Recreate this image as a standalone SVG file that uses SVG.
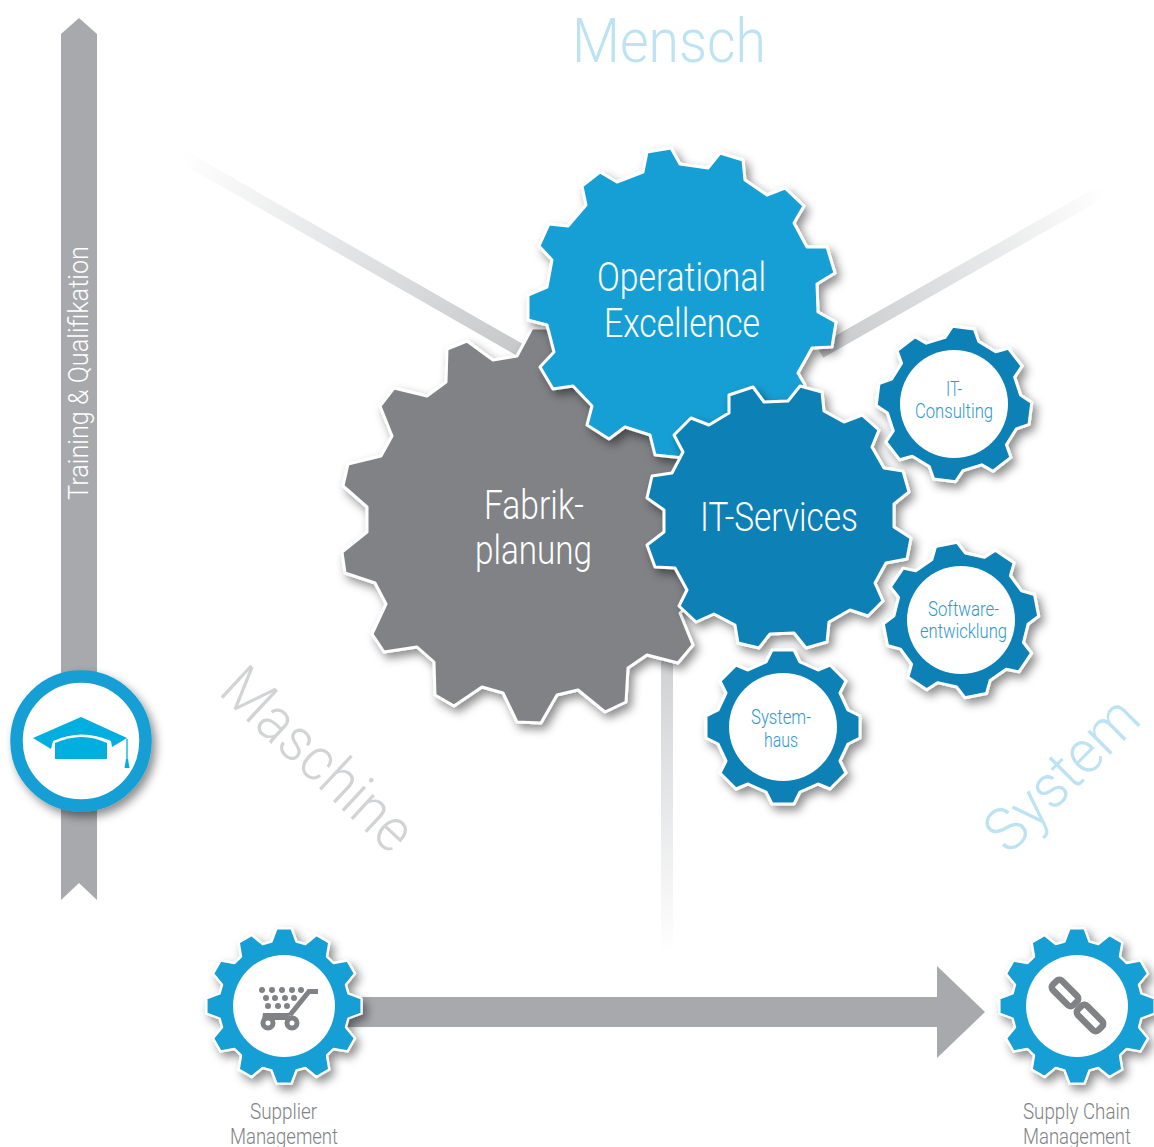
<svg xmlns="http://www.w3.org/2000/svg" xmlns:xlink="http://www.w3.org/1999/xlink" width="1154" height="1147" viewBox="0 0 1154 1147">
<style>
text{font-family:Roboto,"Liberation Sans",sans-serif;font-weight:300}
.big{font-size:40px;fill:#fff}
.small{font-size:20px;fill:#2f97cb}
.cap{font-size:21.5px;fill:#808285}
.axis{font-size:61px}
.gear{stroke:#fff;stroke-width:3;stroke-linejoin:round}
.inner{fill:#fff}
.shadow{filter:url(#ds)}
.chain{fill:none;stroke:#808285;stroke-width:6.5}
</style>
<defs>
<filter id="ds" x="-20%" y="-20%" width="150%" height="150%"><feDropShadow dx="4" dy="5" stdDeviation="5" flood-color="#000" flood-opacity=".45"/></filter>
<linearGradient id="bandL" gradientUnits="userSpaceOnUse" x1="180" y1="155" x2="520" y2="350"><stop offset="0" stop-color="#fff"/><stop offset="1" stop-color="#c6c8ca"/></linearGradient>
<linearGradient id="bandR" gradientUnits="userSpaceOnUse" x1="1105" y1="190" x2="820" y2="352"><stop offset="0" stop-color="#fff"/><stop offset="1" stop-color="#c6c8ca"/></linearGradient>
<linearGradient id="bandV" gradientUnits="userSpaceOnUse" x1="667" y1="660" x2="667" y2="955"><stop offset="0" stop-color="#cfd1d3"/><stop offset="1" stop-color="#fff"/></linearGradient>
<path id="g12" d="M-9.6-99.5 9.6-99.5 16-82.5 27.3-79.4 41.5-91 58.1-81.4 55.1-63.4 63.4-55.1 81.4-58.1 91-41.5 79.4-27.3 82.5-16 99.5-9.6 99.5 9.6 82.5 16 79.4 27.3 91 41.5 81.4 58.1 63.4 55.1 55.1 63.4 58.1 81.4 41.5 91 27.3 79.4 16 82.5 9.6 99.5-9.6 99.5-16 82.5-27.3 79.4-41.5 91-58.1 81.4-55.1 63.4-63.4 55.1-81.4 58.1-91 41.5-79.4 27.3-82.5 16-99.5 9.6-99.5-9.6-82.5-16-79.4-27.3-91-41.5-81.4-58.1-63.4-55.1-55.1-63.4-58.1-81.4-41.5-91-27.3-79.4-16-82.5Z"/>
<path id="g8" d="M-11-77 11-77 17-65 35-57 47-62 63-46 57-34 65-17 77-11 77 11 65 17 57 34 63 46 47 62 35 57 17 65 11 77-11 77-17 65-35 57-47 62-63 46-57 34-65 17-77 11-77-11-65-17-57-34-63-46-47-62-35-57-17-65Z"/>
</defs>
<g id="axis-labels">
<text class="axis" x="572" y="62" fill="#bde3f3" textLength="194" lengthAdjust="spacingAndGlyphs">Mensch</text>
<text class="axis" transform="translate(217 693) rotate(43)" fill="#d1d3d4" textLength="238" lengthAdjust="spacingAndGlyphs">Maschine</text>
<text class="axis" transform="translate(1009 856) rotate(-45)" fill="#bde3f3" textLength="190" lengthAdjust="spacingAndGlyphs">System</text>
</g>
<g id="connectors">
<path d="M180 155 520 350" stroke="url(#bandL)" stroke-width="13" fill="none"/>
<path d="M1105 190 820 352" stroke="url(#bandR)" stroke-width="13" fill="none"/>
<rect x="661" y="655" width="12" height="300" fill="url(#bandV)"/>
<path d="M61 34 79 18 97 34V900L79 883 61 900Z" fill="#a7a9ac"/>
<path d="M340 997H937V966L985 1012 937 1058V1027H340Z" fill="#a7a9ac"/>
<text transform="translate(88 500) rotate(-90)" font-size="27" fill="#fff" textLength="254" lengthAdjust="spacingAndGlyphs">Training &amp; Qualifikation</text>
</g>
<g id="fabrikplanung">
<path class="gear shadow" fill="#808285" d="M348 464 381 456 392 436 380 406 394 388 427 396 446 382 447 349 467 341 493 360 517 356 532 328 547 328 600 300 720 450 740 560 680 613 693 645 678 663 647 655 628 668 626 702 605 712 578 690 557 695 541 723 517 722 503 693 482 687 454 706 435 695 434 662 417 647 384 652 372 634 386 604 375 583 345 573 342 552 367 532 367 507 343 486Z"/>
<text class="big" x="484" y="519" textLength="100" lengthAdjust="spacingAndGlyphs">Fabrik-</text>
<text class="big" x="475" y="564" textLength="117" lengthAdjust="spacingAndGlyphs">planung</text>
</g>
<g id="operational-excellence">
<path class="gear shadow" fill="#159fd4" d="M647 152 671 148 680 164 708 168 720 153 743 160 745 180 767 195 785 188 804 206 794 223 807 247 827 247 835 273 817 284 818 312 836 322 832 347 812 348 798 373 805 385 770 430 700 470 684 458 655 455 650 435 625 427 609 439 587 425 592 406 573 386 553 389 540 367 554 352 547 325 528 320 528 295 547 287 552 260 539 246 549 224 568 226 586 205 582 186 600 172 617 182 643 172Z"/>
<text class="big" x="597" y="291" textLength="169" lengthAdjust="spacingAndGlyphs">Operational</text>
<text class="big" x="604" y="337" textLength="156" lengthAdjust="spacingAndGlyphs">Excellence</text>
</g>
<g id="it-services">
<path class="gear shadow" fill="#0e80b5" d="M729 395 753 387 764 402 788 401 800 386 822 392 824 411 844 422 862 415 879 430 872 447 884 468 903 471 909 492 894 504 894 527 911 538 907 559 886 563 875 583 883 601 868 616 850 610 829 622 827 642 806 648 794 633 770 634 759 648 738 643 735 625 714 614 696 622 679 606 687 590 675 568 655 567 647 545 664 532 664 510 647 498 652 476 672 473 683 452 674 435 691 418 709 425 729 413Z"/>
<text class="big" x="700" y="531" textLength="158" lengthAdjust="spacingAndGlyphs">IT-Services</text>
</g>
<g id="it-consulting">
<g class="shadow"><use href="#g8" class="gear" fill="#0e80b5" transform="translate(954 404) rotate(7)"/></g>
<circle class="inner" cx="954" cy="404" r="54"/>
<text class="small" x="946" y="396" textLength="16" lengthAdjust="spacingAndGlyphs">IT-</text>
<text class="small" x="915" y="418" textLength="78" lengthAdjust="spacingAndGlyphs">Consulting</text>
</g>
<g id="softwareentwicklung">
<g class="shadow"><use href="#g8" class="gear" fill="#0e80b5" transform="translate(961 620) rotate(-11)"/></g>
<circle class="inner" cx="961" cy="620" r="54"/>
<text class="small" x="928" y="616" textLength="71" lengthAdjust="spacingAndGlyphs">Software-</text>
<text class="small" x="920" y="638" textLength="87" lengthAdjust="spacingAndGlyphs">entwicklung</text>
</g>
<g id="systemhaus">
<g class="shadow"><use href="#g8" class="gear" fill="#0e80b5" transform="translate(783 727)"/></g>
<circle class="inner" cx="783" cy="727" r="54"/>
<text class="small" x="751" y="724" textLength="60" lengthAdjust="spacingAndGlyphs">System-</text>
<text class="small" x="764" y="747" textLength="34" lengthAdjust="spacingAndGlyphs">haus</text>
</g>
<g id="training">
<circle class="shadow" cx="81" cy="741" r="64.5" fill="#fff" stroke="#159fd4" stroke-width="12.5"/>
<path d="M81 717 127 738 112 747 111 741Q82 728 53 741L51 749 33 738Z" fill="#00aedf"/>
<path d="M55 743Q82 731 107 743V759H55Z" fill="#00aedf"/>
<path d="M127 739V760" stroke="#00aedf" stroke-width="1.3" fill="none"/>
<path d="M126 759H128L129.500 768H124.500Z" fill="#00aedf"/>
</g>
<g id="supplier-management">
<g class="shadow"><use href="#g12" class="gear" fill="#159fd4" stroke-width="3.800" transform="translate(284 1006) scale(.78)"/></g>
<circle class="inner" cx="284" cy="1006" r="51"/>
<g fill="#808285">
<circle cx="262" cy="990" r="3"/><circle cx="272" cy="990" r="3"/><circle cx="282" cy="990" r="3"/><circle cx="292" cy="990" r="3"/><circle cx="301" cy="990" r="3"/>
<circle cx="266" cy="998" r="3"/><circle cx="275" cy="998" r="3"/><circle cx="285" cy="998" r="3"/><circle cx="294" cy="998" r="3"/>
<circle cx="268" cy="1006" r="3"/><circle cx="278" cy="1006" r="3"/><circle cx="287" cy="1006" r="3"/>
<path d="M318 991.500H309L290 1015" fill="none" stroke="#808285" stroke-width="5"/>
<path d="M263 1013H292L286 1020H262Z"/>
<path fill-rule="evenodd" d="M260.500 1023a7.500 7.500 0 1 0 15 0a7.500 7.500 0 1 0-15 0ZM265.500 1023a2.500 2.500 0 1 1 5 0a2.500 2.500 0 1 1-5 0Z"/>
<path fill-rule="evenodd" d="M284.500 1023a7.500 7.500 0 1 0 15 0a7.500 7.500 0 1 0-15 0ZM289.500 1023a2.500 2.500 0 1 1 5 0a2.500 2.500 0 1 1-5 0Z"/>
</g>
<text class="cap" x="250" y="1119" textLength="67" lengthAdjust="spacingAndGlyphs">Supplier</text>
<text class="cap" x="230" y="1144" textLength="108" lengthAdjust="spacingAndGlyphs">Management</text>
</g>
<g id="supply-chain-management">
<g class="shadow"><use href="#g12" class="gear" fill="#159fd4" stroke-width="3.800" transform="translate(1077 1006) scale(.78)"/></g>
<circle class="inner" cx="1077" cy="1006" r="51"/>
<rect class="chain" x="-14.500" y="-6.500" width="29" height="13" rx="4" transform="translate(1065 993) rotate(45)"/>
<rect class="chain" x="-14.500" y="-6.500" width="29" height="13" rx="4" transform="translate(1090 1018) rotate(45)"/>
<text class="cap" x="1023" y="1119" textLength="107" lengthAdjust="spacingAndGlyphs">Supply Chain</text>
<text class="cap" x="1023" y="1144" textLength="108" lengthAdjust="spacingAndGlyphs">Management</text>
</g>
</svg>
